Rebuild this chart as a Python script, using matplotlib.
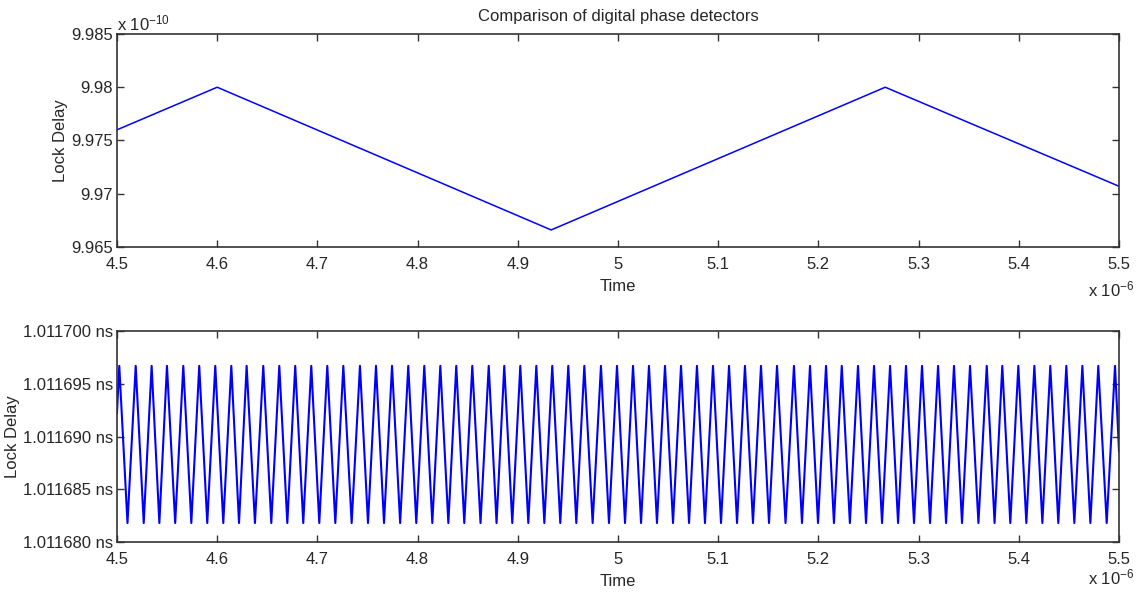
import numpy as np
import matplotlib
matplotlib.use("Agg")
import matplotlib.pyplot as plt

plt.rcParams['font.family'] = ['Liberation Sans', 'DejaVu Sans']
plt.rcParams['mathtext.fontset'] = 'custom'
plt.rcParams['mathtext.rm'] = 'Liberation Sans'
plt.rcParams['mathtext.it'] = 'Liberation Sans'

# top panel: lock delay (x 1e-10 s) vs time (x 1e-6 s)
top_time = [4.5, 4.6, 4.9333, 5.2667, 5.5]
top_delay = [9.9760, 9.9800, 9.9666, 9.9800, 9.9707]

# bottom panel: lock delay (ns) vs time (x 1e-6 s)
peak_time = [4.5023, 4.5187, 4.5346, 4.5499, 4.5662, 4.5821, 4.5981, 4.6141, 4.6294,
             4.6460, 4.6620, 4.6779, 4.6939, 4.7099, 4.7259, 4.7425, 4.7585, 4.7745,
             4.7907, 4.8067, 4.8227, 4.8386, 4.8546, 4.8710, 4.8865, 4.9025, 4.9185,
             4.9344, 4.9504, 4.9664, 4.9830, 4.9990, 5.0150, 5.0309, 5.0469, 5.0629,
             5.0788, 5.0948, 5.1108, 5.1267, 5.1427, 5.1587, 5.1756, 5.1916, 5.2076,
             5.2233, 5.2395, 5.2555, 5.2715, 5.2874, 5.3034, 5.3194, 5.3353, 5.3513,
             5.3680, 5.3835, 5.3995, 5.4155, 5.4314, 5.4474, 5.4634, 5.4793, 5.4960]
trough_time = [4.5105, 4.5267, 4.5423, 4.5581, 4.5742, 4.5901, 4.6061, 4.6218, 4.6377,
               4.6540, 4.6700, 4.6859, 4.7019, 4.7179, 4.7342, 4.7505, 4.7665, 4.7826,
               4.7987, 4.8147, 4.8307, 4.8466, 4.8628, 4.8788, 4.8945, 4.9105, 4.9265,
               4.9424, 4.9584, 4.9747, 4.9910, 5.0070, 5.0230, 5.0389, 5.0549, 5.0709,
               5.0868, 5.1028, 5.1188, 5.1347, 5.1507, 5.1672, 5.1836, 5.1996, 5.2155,
               5.2314, 5.2475, 5.2635, 5.2795, 5.2954, 5.3114, 5.3274, 5.3433, 5.3597,
               5.3758, 5.3915, 5.4075, 5.4235, 5.4394, 5.4554, 5.4714, 5.4877]
peak_delay = 1.0116967
trough_delay = 1.0116818
start_point = (4.5, 1.0116922)
end_point = (5.5, 1.0116886)

x_ticks = [4.5, 4.6, 4.7, 4.8, 4.9, 5.0, 5.1, 5.2, 5.3, 5.4, 5.5]
top_yticks = [9.965, 9.970, 9.975, 9.980, 9.985]
bot_yticks = [1.011680, 1.011685, 1.011690, 1.011695, 1.011700]

# build the zigzag for the bottom panel
bt = [start_point[0]]
bv = [start_point[1]]
for i, pt in enumerate(peak_time):
    bt.append(pt)
    bv.append(peak_delay)
    if i < len(trough_time):
        bt.append(trough_time[i])
        bv.append(trough_delay)
bt.append(end_point[0])
bv.append(end_point[1])

txt = '#262626'
fig = plt.figure(figsize=(11.4, 5.94), dpi=100)
ax1 = fig.add_axes([0.1026, 0.5842, 0.879, 0.3586])
ax2 = fig.add_axes([0.1026, 0.0875, 0.879, 0.3552])

ax1.plot(top_time, top_delay, color='#0000ff', lw=1.1)
ax2.plot(bt, bv, color='#0000ff', lw=1.5)

for ax in (ax1, ax2):
    ax.set_xlim(4.5, 5.5)
    ax.set_xticks(x_ticks)
    ax.set_xticklabels(['%g' % v for v in x_ticks])
    ax.tick_params(direction='in', top=True, right=True, length=5, width=1,
                   colors='#333333', labelcolor=txt, labelsize=12, pad=3)
    ax.tick_params(axis='x', pad=7)
    for s in ax.spines.values():
        s.set_color('#333333')
        s.set_linewidth(1.2)
    ax.set_xlabel('Time', fontsize=12, color=txt, labelpad=5)
    ax.set_ylabel('Lock Delay', fontsize=12, color=txt, labelpad=2)

ax1.set_ylim(9.965, 9.985)
ax1.set_yticks(top_yticks)
ax1.set_yticklabels(['%g' % v for v in top_yticks])
ax1.set_title('Comparison of digital phase detectors', fontsize=12, color=txt, pad=9)

ax2.set_ylim(1.011680, 1.011700)
ax2.set_yticks(bot_yticks)
ax2.set_yticklabels(['%.6f ns' % v for v in bot_yticks])

# MATLAB-style exponent labels
fig.text(0.1026, 0.944, r'x 10$^{-10}$', fontsize=12, color=txt, ha='left', va='bottom')
fig.text(0.995, 0.513, r'x 10$^{-6}$', fontsize=12, color=txt, ha='right', va='center')
fig.text(0.995, 0.028, r'x 10$^{-6}$', fontsize=12, color=txt, ha='right', va='center')

plt.savefig('out.png', dpi=100)
